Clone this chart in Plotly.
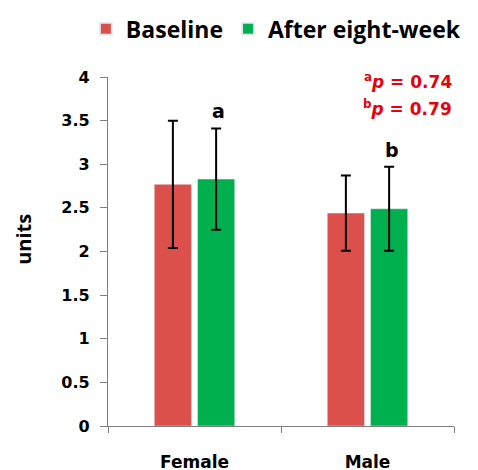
import plotly.graph_objects as go

categories = ["Female", "Male"]
baseline = [2.77, 2.44]
baseline_sd = [0.73, 0.43]
after = [2.83, 2.49]
after_sd = [0.58, 0.48]
sig_labels = ["a", "b"]
p_texts = ["<sup>a</sup><i>p</i> = 0.74", "<sup>b</sup><i>p</i> = 0.79"]
yticks = [0, 0.5, 1, 1.5, 2, 2.5, 3, 3.5, 4]
yticklabels = ["0", "0.5", "1", "1.5", "2", "2.5", "3", "3.5", "4"]

FONT = "DejaVu Sans"
FONT2 = "Open Sans"
RED = "#DB504A"
GREEN = "#00B04F"

fig = go.Figure()
fig.add_trace(go.Bar(
    name="Baseline", x=categories, y=baseline, marker_color=RED,
    error_y=dict(type="data", array=baseline_sd, color="black", thickness=2, width=5),
))
fig.add_trace(go.Bar(
    name="After eight-week", x=categories, y=after, marker_color=GREEN,
    error_y=dict(type="data", array=after_sd, color="black", thickness=2, width=5),
))

for i, cat in enumerate(categories):
    fig.add_annotation(x=cat, y=after[i] + after_sd[i], xref="x", yref="y",
                       text=sig_labels[i], showarrow=False, xshift=24, yshift=4,
                       yanchor="bottom",
                       font=dict(family=FONT, size=19, color="black", weight="bold"))

p_y = [0.9885, 0.911]
for j, t in enumerate(p_texts):
    fig.add_annotation(x=1.0, y=p_y[j], xref="paper", yref="paper",
                       text=t, showarrow=False, xanchor="right", yanchor="middle",
                       font=dict(family=FONT, size=17, color="#E8000B", weight="bold"))

fig.add_annotation(x=-0.243, y=0.536, xref="paper", yref="paper", text="units",
                   showarrow=False, textangle=-90, xanchor="center", yanchor="middle",
                   font=dict(family=FONT2, size=20, color="black", weight="bold"))

fig.update_layout(
    width=470, height=462,
    margin=dict(l=100, r=24, t=69, b=44, autoexpand=False),
    plot_bgcolor="white", paper_bgcolor="white",
    barmode="group", bargap=0.5, bargroupgap=0.14,
    font=dict(family=FONT, color="black"),
    showlegend=True,
    legend=dict(orientation="h", x=-0.064, y=1.2, xref="paper", yref="paper",
                xanchor="left", yanchor="top", bgcolor="rgba(0,0,0,0)",
                font=dict(family=FONT2, size=23, color="black", weight="bold"),
                itemsizing="constant"),
    xaxis=dict(showline=True, linecolor="#7f7f7f", linewidth=1.2, automargin=False,
               ticks="outside", tickson="boundaries", ticklen=6, tickcolor="#7f7f7f",
               ticklabelstandoff=20,
               tickfont=dict(family=FONT, size=17, color="black", weight="bold")),
    yaxis=dict(range=[0, 4], tickvals=yticks, ticktext=yticklabels, automargin=False,
               showline=True, linecolor="#7f7f7f", linewidth=1.2,
               ticks="outside", ticklen=7, tickcolor="#7f7f7f", showgrid=False,
               zeroline=False, ticklabelstandoff=7,
               tickfont=dict(family=FONT, size=16, color="black", weight="bold")),
)

fig.write_html("out.html")
